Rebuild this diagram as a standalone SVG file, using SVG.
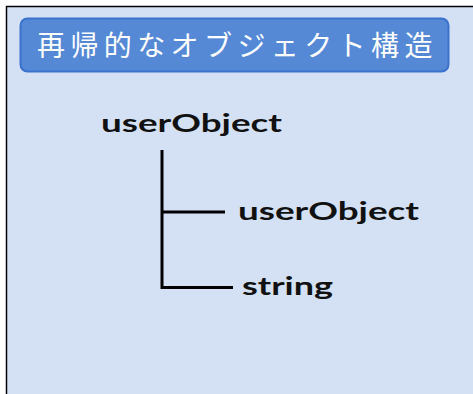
<svg xmlns="http://www.w3.org/2000/svg" width="473" height="394" viewBox="0 0 473 394">
<style>
.lbl{font-family:Lato,"Open Sans",sans-serif;font-weight:bold;font-size:25px;fill:#111}
.ttl{font-family:"Noto Sans CJK JP",sans-serif;font-size:28px;fill:#fff;letter-spacing:5.4px}
.conn{stroke:#000;stroke-width:3;fill:none}
</style>
<rect x="6.5" y="6.5" width="480" height="400" fill="#d4e1f4" stroke="#000" stroke-width="1.5"/>
<g id="title">
<rect x="20.5" y="18.5" width="428" height="53" rx="7" fill="#5589d6" stroke="#3a72cc" stroke-width="2"/>
<text class="ttl" x="37" y="56">再帰的なオブジェクト構造</text>
</g>
<g id="root"><text class="lbl" x="101" y="132" textLength="181" lengthAdjust="spacingAndGlyphs">userObject</text></g>
<g id="child1"><text class="lbl" x="238" y="220" textLength="181" lengthAdjust="spacingAndGlyphs">userObject</text></g>
<g id="child2"><text class="lbl" x="242" y="295" textLength="91" lengthAdjust="spacingAndGlyphs">string</text></g>
<g id="connectors">
<path class="conn" d="M162 150 V289 M162 212 H225 M162 287.5 H233"/>
</g>
</svg>
